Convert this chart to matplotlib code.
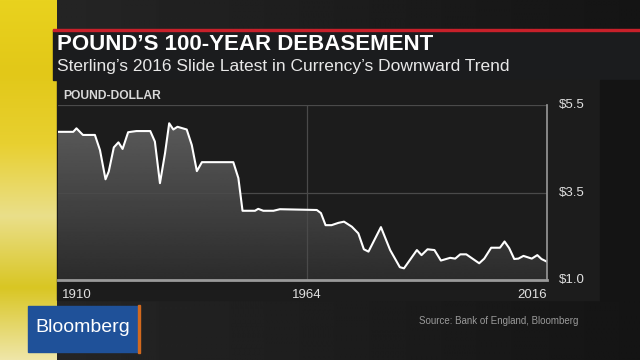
import numpy as np
import matplotlib
matplotlib.use("Agg")
import matplotlib.pyplot as plt
from matplotlib.patches import Rectangle
from matplotlib.colors import LinearSegmentedColormap

# 数値は画像から読み取り (年, ドル)
years = [1910, 1913.3, 1914, 1915.4, 1918, 1919.1, 1920.3, 1921, 1922.1, 1923.1,
         1924, 1925.2, 1927, 1930, 1931, 1932.1, 1933.2, 1934.1, 1935, 1935.9,
         1937.9, 1939, 1940.1, 1941.2, 1948, 1949.1, 1950, 1952.7, 1953.4, 1954.5,
         1956.7, 1958.1, 1966.1, 1967, 1968, 1969.3, 1970.8, 1972, 1973.7, 1975.1,
         1976.3, 1977.3, 1980, 1982, 1984.1, 1985, 1987.8, 1988.8, 1990.1, 1991.6,
         1993, 1995, 1996.1, 1997.2, 1998.5, 2001.3, 2002.4, 2003.9, 2005.8, 2006.8,
         2007.8, 2008.9, 2009.8, 2010.9, 2012.7, 2013.9, 2014.8, 2016]
usd = [4.81, 4.81, 4.90, 4.73, 4.73, 4.34, 3.59, 3.79, 4.41, 4.54,
       4.37, 4.80, 4.83, 4.83, 4.56, 3.49, 4.26, 5.03, 4.87, 4.94,
       4.87, 4.47, 3.80, 4.03, 4.03, 3.62, 2.78, 2.78, 2.83, 2.78,
       2.78, 2.82, 2.80, 2.72, 2.41, 2.41, 2.47, 2.50, 2.37, 2.20,
       1.79, 1.73, 2.36, 1.77, 1.33, 1.30, 1.77, 1.64, 1.79, 1.77,
       1.50, 1.57, 1.55, 1.66, 1.66, 1.43, 1.55, 1.83, 1.83, 1.99,
       1.82, 1.54, 1.55, 1.62, 1.55, 1.64, 1.54, 1.47]

x_ticks = [1910, 1964, 2016]
y_tick_pos = [1.0, 3.25, 5.5]
y_tick_labels = ["$1.0", "$3.5", "$5.5"]

title = "POUND\u2019S 100-YEAR DEBASEMENT"
subtitle = "Sterling\u2019s 2016 Slide Latest in Currency\u2019s Downward Trend"
source = "Source: Bank of England, Bloomberg"

plt.rcParams["font.family"] = ["Liberation Sans", "DejaVu Sans"]

W, H = 640, 360
fig = plt.figure(figsize=(6.4, 3.6), dpi=100)

# 背景 (画面全体をピクセル座標で)
bg = fig.add_axes([0, 0, 1, 1])
bg.set_xlim(0, W)
bg.set_ylim(H, 0)
bg.axis("off")
grad = np.linspace(0, 1, 256)[None, :]
bg.imshow(0.15 - 0.07 * grad, cmap="gray", vmin=0, vmax=1, aspect="auto",
          extent=[0, W, H, 0])

# 左の黄色い帯
yellow = LinearSegmentedColormap.from_list(
    "yel", ["#e9d21e", "#e2c818", "#e8d030", "#eadf8a", "#d9c623", "#efe6a8"])
bg.imshow(np.linspace(0, 1, 256)[:, None], cmap=yellow, aspect="auto",
          extent=[0, 57, H, 0])

# タイトル帯・パネル
bg.add_patch(Rectangle((53, 30), W - 53, 50, color="#1b1c1e"))
bg.add_patch(Rectangle((53, 28.5), W - 53, 2.5, color="#c8202a"))
bg.add_patch(Rectangle((57, 80), 543, 220, color="#1c1c1c"))
bg.add_patch(Rectangle((600, 80), W - 600, 220, color="#141414"))

bg.text(57, 45, title, color="white", fontsize=16, fontweight="bold",
        va="center", ha="left")
bg.text(57, 67, subtitle, color="#e8e8e8", fontsize=12.5, va="center", ha="left")
bg.text(63, 96, "POUND-DOLLAR", color="#d8d8d8", fontsize=8.7, fontweight="bold",
        va="center", ha="left")
bg.text(578, 321, source, color="#9a9a9a", fontsize=7, va="center", ha="right")

# Bloomberg ロゴ
bg.add_patch(Rectangle((28, 306), 110, 46, color="#1f5199"))
bg.add_patch(Rectangle((138, 305), 2.2, 48, color="#d2691e"))
bg.text(83, 328, "Bloomberg", color="white", fontsize=14, va="center", ha="center")

# チャート本体
ax = fig.add_axes([58 / W, 1 - 280 / H, 489 / W, 175 / H])
ax.set_facecolor("none")
ax.set_xlim(1910, 2016)
ax.set_ylim(1.0, 5.5)

poly = ax.fill_between(years, usd, 1.0, color="none")
gimg = ax.imshow(np.linspace(0.36, 0.17, 256)[:, None], cmap="gray", vmin=0, vmax=1,
                 aspect="auto", extent=[1910, 2016, 1.0, 5.2], origin="upper",
                 zorder=1)
gimg.set_clip_path(poly.get_paths()[0], transform=ax.transData)
ax.plot(years, usd, color="white", lw=1.5, zorder=3)

for yv in y_tick_pos[1:]:
    ax.axhline(yv, color="#4a4a4a", lw=0.9, zorder=2)
ax.axhline(1.0, color="#9a9a9a", lw=2, zorder=4, clip_on=False)
ax.axvline(1964, color="#4a4a4a", lw=0.9, zorder=2)
ax.axvline(2016, color="#9a9a9a", lw=1.2, zorder=4, clip_on=False)

for s in ax.spines.values():
    s.set_visible(False)
ax.set_xticks([])
ax.set_yticks([])

for yv, lab in zip(y_tick_pos, y_tick_labels):
    ax.text(2018.5, yv, lab, color="#e0e0e0", fontsize=9.5, va="center", ha="left")
ax.text(1910.8, 0.62, str(x_ticks[0]), color="#e0e0e0", fontsize=9.5, va="center", ha="left")
ax.text(x_ticks[1], 0.62, str(x_ticks[1]), color="#e0e0e0", fontsize=9.5, va="center", ha="center")
ax.text(2016, 0.62, str(x_ticks[2]), color="#e0e0e0", fontsize=9.5, va="center", ha="right")

fig.savefig("out.png", dpi=100)
